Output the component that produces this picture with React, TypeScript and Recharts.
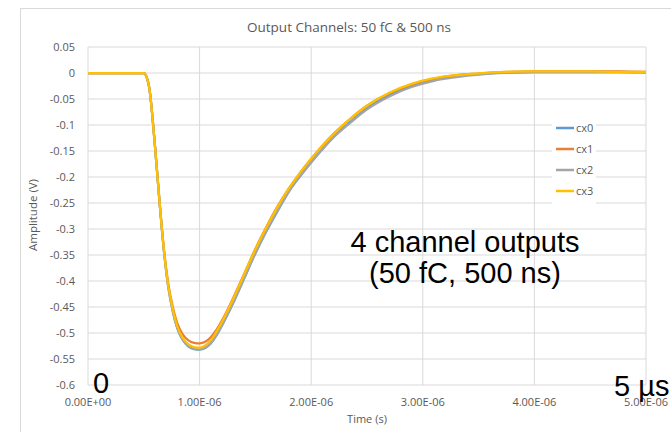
import React from 'react';
import { LineChart, Line, XAxis, YAxis, CartesianGrid, Legend } from 'recharts';

// Time samples in microseconds
const TIME_US = [
  0, 0.1, 0.2, 0.3, 0.4, 0.5, 0.52, 0.55, 0.6, 0.64, 0.68, 0.72, 0.76, 0.8, 0.85, 0.9, 0.95, 1.0,
  1.05, 1.1, 1.15, 1.2, 1.3, 1.4, 1.5, 1.6, 1.7,
  1.8, 1.9, 2.0, 2.1, 2.2, 2.35, 2.5, 2.7, 2.9, 3.1, 3.3, 3.5, 3.75, 4.0, 4.25, 4.5, 4.75, 5.0,
];

const CX0 = [
  0, 0, 0, 0, 0, 0, -0.005, -0.03, -0.14, -0.246, -0.342, -0.413, -0.459, -0.491, -0.514, -0.526, -0.531, -0.532,
  -0.529, -0.52, -0.505, -0.486, -0.443, -0.395, -0.347, -0.304, -0.265,
  -0.228, -0.198, -0.171, -0.146, -0.123, -0.094, -0.068, -0.043, -0.025, -0.013, -0.006, -0.002, 0.001, 0.002, 0.002, 0.002, 0.002, 0.001,
];

const CX1 = [
  0, 0, 0, 0, 0, 0, -0.005, -0.03, -0.14, -0.244, -0.338, -0.406, -0.45, -0.481, -0.503, -0.514, -0.519, -0.52,
  -0.517, -0.508, -0.494, -0.476, -0.433, -0.386, -0.338, -0.295, -0.256,
  -0.222, -0.192, -0.165, -0.14, -0.117, -0.088, -0.063, -0.039, -0.022, -0.011, -0.004, -0.001, 0.002, 0.003, 0.003, 0.003, 0.003, 0.002,
];

const CX2 = [
  0, 0, 0, 0, 0, 0, -0.005, -0.03, -0.14, -0.246, -0.341, -0.412, -0.458, -0.49, -0.513, -0.525, -0.53, -0.531,
  -0.528, -0.519, -0.504, -0.485, -0.442, -0.394, -0.346, -0.303, -0.264,
  -0.228, -0.199, -0.172, -0.147, -0.124, -0.096, -0.07, -0.045, -0.027, -0.015, -0.008, -0.003, 0.0, 0.001, 0.001, 0.001, 0.001, 0.001,
];

const CX3 = [
  0, 0, 0, 0, 0, 0, -0.005, -0.03, -0.14, -0.245, -0.34, -0.41, -0.455, -0.487, -0.51, -0.522, -0.527, -0.528,
  -0.524, -0.514, -0.498, -0.479, -0.435, -0.387, -0.339, -0.296, -0.257,
  -0.222, -0.192, -0.165, -0.14, -0.117, -0.088, -0.063, -0.038, -0.021, -0.01, -0.004, -0.0005, 0.002, 0.003, 0.003, 0.003, 0.002, 0.002,
];

const SERIES = [
  { key: 'cx0', name: 'cx0', values: CX0, color: '#5B9BD5' },
  { key: 'cx1', name: 'cx1', values: CX1, color: '#ED7D31' },
  { key: 'cx2', name: 'cx2', values: CX2, color: '#A5A5A5' },
  { key: 'cx3', name: 'cx3', values: CX3, color: '#FFC000' },
];

const X_TICKS = [0, 1e-6, 2e-6, 3e-6, 4e-6, 5e-6];
const Y_TICKS = [0.05, 0, -0.05, -0.1, -0.15, -0.2, -0.25, -0.3, -0.35, -0.4, -0.45, -0.5, -0.55, -0.6];

const TITLE = 'Output Channels: 50 fC & 500 ns';
const X_LABEL = 'Time (s)';
const Y_LABEL = 'Amplitude (V)';
const NOTE_LINE1 = '4 channel outputs';
const NOTE_LINE2 = '(50 fC, 500 ns)';
const NOTE_START = '0';
const NOTE_END = '5 µs';

const data = TIME_US.map((t, i) => {
  const row: Record<string, number> = { t: t * 1e-6 };
  SERIES.forEach((s) => {
    row[s.key] = s.values[i];
  });
  return row;
});

const fmtX = (v: number) => {
  const s = v.toExponential(2);
  const [m, e] = s.split('e');
  const sign = e[0] === '-' ? '-' : '+';
  const d = e.replace(/[+-]/, '').padStart(2, '0');
  return `${m}E${sign}${d}`;
};

const fmtY = (v: number) => String(v);

const UI_FONT = '"Open Sans", "Noto Sans", sans-serif';
const ANNOT_FONT = '"Liberation Sans", Arial, sans-serif';
const GRAY = '#595959';

const renderLegend = (props: any) => {
  const payload = props.payload || [];
  return (
    <div
      style={{
        background: '#ffffff',
        width: 44,
        padding: '5px 0 6px 4px',
        boxSizing: 'border-box',
        fontFamily: UI_FONT,
        fontSize: 11,
        color: GRAY,
      }}
    >
      {payload.map((entry: any) => (
        <div key={entry.value} style={{ display: 'flex', alignItems: 'center', height: 21 }}>
          <svg width={18} height={4} style={{ display: 'block' }}>
            <line x1={0} y1={2} x2={18} y2={2} stroke={entry.color} strokeWidth={2.5} />
          </svg>
          <span style={{ marginLeft: 2, lineHeight: '21px' }}>{entry.value}</span>
        </div>
      ))}
    </div>
  );
};

const W = 663;
const H = 424;

export default function App() {
  return (
    <div
      style={{
        position: 'relative',
        marginLeft: 8,
        marginTop: 8,
        width: W,
        height: H,
        overflow: 'hidden',
        fontFamily: UI_FONT,
        background: '#ffffff',
      }}
    >
      <style>{'html, body { margin: 0; padding: 0; overflow: hidden; width: 671px; height: 432px; }'}</style>
      <div
        style={{
          position: 'absolute',
          left: 12,
          top: 0,
          width: 700,
          height: 500,
          borderLeft: '1px solid #d9d9d9',
          borderTop: '1px solid #d9d9d9',
        }}
      />
      <div style={{ position: 'absolute', left: 0, top: 0 }}>
        <LineChart width={W} height={H} data={data} margin={{ top: 39, right: 25, bottom: 0, left: 0 }}>
          <CartesianGrid stroke="#d9d9d9" strokeWidth={1} />
          <XAxis
            dataKey="t"
            type="number"
            domain={[0, 5e-6]}
            ticks={X_TICKS}
            tickFormatter={fmtX}
            interval={0}
            axisLine={false}
            tickLine={false}
            tickSize={6}
            tickMargin={7}
            height={47}
            tick={{ fill: GRAY, fontSize: 11, fontFamily: UI_FONT }}
          />
          <YAxis
            type="number"
            domain={[-0.6, 0.05]}
            ticks={Y_TICKS}
            tickFormatter={fmtY}
            interval={0}
            axisLine={false}
            tickLine={false}
            tickSize={6}
            tickMargin={7}
            width={80}
            tick={{ fill: GRAY, fontSize: 11, fontFamily: UI_FONT }}
          />
          <Legend
            layout="vertical"
            align="center"
            verticalAlign="middle"
            content={renderLegend}
            wrapperStyle={{ left: 544, top: 104, width: 44 }}
          />
          {SERIES.map((s) => (
            <Line
              key={s.key}
              dataKey={s.key}
              name={s.name}
              type="monotone"
              stroke={s.color}
              strokeWidth={2.25}
              dot={false}
              activeDot={false}
              isAnimationActive={false}
            />
          ))}
        </LineChart>
      </div>
      <svg
        width={W}
        height={H}
        style={{ position: 'absolute', left: 0, top: 0, pointerEvents: 'none' }}
      >
        <text x={341} y={24} textAnchor="middle" fontFamily={UI_FONT} fontSize={13.5} fill={GRAY}>
          {TITLE}
        </text>
        <text
          x={24}
          y={207}
          textAnchor="middle"
          dominantBaseline="central"
          transform="rotate(-90 24 207)"
          fontFamily={UI_FONT}
          fontSize={11.5}
          fill={GRAY}
        >
          {Y_LABEL}
        </text>
        <text x={359} y={410} textAnchor="middle" dominantBaseline="central" fontFamily={UI_FONT} fontSize={11} fill={GRAY}>
          {X_LABEL}
        </text>
        <text x={457} y={244} textAnchor="middle" fontFamily={ANNOT_FONT} fontSize={29} fill="#000000">
          {NOTE_LINE1}
        </text>
        <text x={457} y={274.5} textAnchor="middle" fontFamily={ANNOT_FONT} fontSize={29} fill="#000000">
          {NOTE_LINE2}
        </text>
        <text x={93} y={385} textAnchor="middle" fontFamily={ANNOT_FONT} fontSize={29} fill="#000000">
          {NOTE_START}
        </text>
        <text x={606} y={388} textAnchor="start" fontFamily={ANNOT_FONT} fontSize={29} fill="#000000">
          {NOTE_END}
        </text>
      </svg>
    </div>
  );
}
